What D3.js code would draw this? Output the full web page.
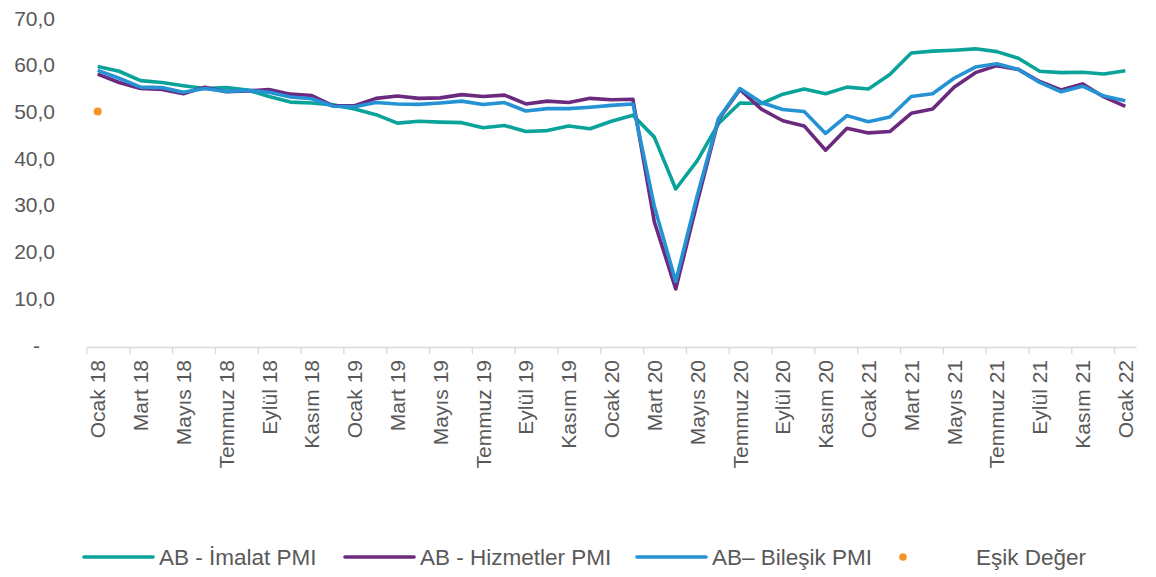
<!DOCTYPE html>
<html lang="tr">
<head>
<meta charset="utf-8">
<script src="https://cdn.jsdelivr.net/npm/d3@7/dist/d3.min.js"></script>
<style>
  html, body { margin: 0; padding: 0; background: #fff; }
  svg { display: block; font-family: "Liberation Sans", Arial, sans-serif; }
</style>
</head>
<body>
<svg id="chart" width="1156" height="577"></svg>
<script>
// Aylık kategoriler (Ocak 2018 – Ocak 2022)
const categories = [
  "Ocak 18","Şubat 18","Mart 18","Nisan 18","Mayıs 18","Haziran 18","Temmuz 18","Ağustos 18","Eylül 18","Ekim 18","Kasım 18","Aralık 18",
  "Ocak 19","Şubat 19","Mart 19","Nisan 19","Mayıs 19","Haziran 19","Temmuz 19","Ağustos 19","Eylül 19","Ekim 19","Kasım 19","Aralık 19",
  "Ocak 20","Şubat 20","Mart 20","Nisan 20","Mayıs 20","Haziran 20","Temmuz 20","Ağustos 20","Eylül 20","Ekim 20","Kasım 20","Aralık 20",
  "Ocak 21","Şubat 21","Mart 21","Nisan 21","Mayıs 21","Haziran 21","Temmuz 21","Ağustos 21","Eylül 21","Ekim 21","Kasım 21","Aralık 21",
  "Ocak 22"
];

// AB - İmalat PMI
const imalatPMI = [
  59.6, 58.6, 56.6, 56.2, 55.5, 54.9, 55.1, 54.6, 53.2, 52.0, 51.8, 51.4,
  50.5, 49.3, 47.5, 47.9, 47.7, 47.6, 46.5, 47.0, 45.7, 45.9, 46.9, 46.3,
  47.9, 49.2, 44.5, 33.4, 39.4, 47.4, 51.8, 51.7, 53.7, 54.8, 53.8, 55.2,
  54.8, 57.9, 62.5, 62.9, 63.1, 63.4, 62.8, 61.4, 58.6, 58.3, 58.4, 58.0,
  58.7
];

// AB - Hizmetler PMI
const hizmetlerPMI = [
  58.0, 56.2, 54.9, 54.7, 53.8, 55.2, 54.2, 54.4, 54.7, 53.7, 53.4, 51.2,
  51.2, 52.8, 53.3, 52.8, 52.9, 53.6, 53.2, 53.5, 51.6, 52.2, 51.9, 52.8,
  52.5, 52.6, 26.4, 12.0, 30.5, 48.3, 54.7, 50.5, 48.0, 46.9, 41.7, 46.4,
  45.4, 45.7, 49.6, 50.5, 55.2, 58.3, 59.8, 59.0, 56.4, 54.6, 55.9, 53.1,
  51.1
];

// AB– Bileşik PMI
const bilesikPMI = [
  58.8, 57.1, 55.2, 55.1, 54.1, 54.9, 54.3, 54.5, 54.1, 53.1, 52.7, 51.1,
  51.0, 51.9, 51.6, 51.5, 51.8, 52.2, 51.5, 51.9, 50.1, 50.6, 50.6, 50.9,
  51.3, 51.6, 29.7, 13.6, 31.9, 48.5, 54.9, 51.9, 50.4, 50.0, 45.3, 49.1,
  47.8, 48.8, 53.2, 53.8, 57.1, 59.5, 60.2, 59.0, 56.2, 54.2, 55.4, 53.3,
  52.3
];

// Eşik Değer (yalnızca ilk ayda tek nokta)
const esikDeger = [50];

const yTicks = [0, 10, 20, 30, 40, 50, 60, 70];
const xTickLabels = categories.filter((d, i) => i % 2 === 0);

const seriesNames = ["AB - İmalat PMI", "AB - Hizmetler PMI", "AB– Bileşik PMI"];
const seriesValues = [imalatPMI, hizmetlerPMI, bilesikPMI];
const seriesColors = ["#0aa39a", "#6b2a7e", "#2592d4"];
const esikName = "Eşik Değer";
const esikColor = "#f7922a";

const svg = d3.select("#chart");
const textColor = "#595959";

const x = d3.scaleBand().domain(categories).range([87, 1136]).paddingInner(0).paddingOuter(0);
const y = d3.scaleLinear().domain([0, 70]).range([345, 18]);
const cx = d => x(d) + x.bandwidth() / 2;

// Y ekseni etiketleri
const yFmt = v => v === 0 ? "-" : v.toFixed(1).replace(".", ",");
svg.append("g")
  .selectAll("text")
  .data(yTicks)
  .join("text")
  .attr("x", v => v === 0 ? 40 : 55)
  .attr("y", v => y(v))
  .attr("dy", "0.36em")
  .attr("text-anchor", "end")
  .attr("font-size", 21)
  .attr("fill", textColor)
  .text(yFmt);

// X ekseni: çizgi ve iki ayda bir etiket
const xAxis = d3.axisBottom(x)
  .tickValues(xTickLabels)
  .tickSize(0)
  .tickFormat(d => d);
const gx = svg.append("g").attr("transform", "translate(0,347)").call(xAxis);
gx.select(".domain").attr("stroke", "#d9d9d9").attr("stroke-width", 1.3);
gx.selectAll(".tick text")
  .attr("font-size", 21)
  .attr("font-family", "Liberation Sans, Arial, sans-serif")
  .attr("fill", textColor)
  .attr("text-anchor", "end")
  .attr("transform", "rotate(-90)")
  .attr("x", -13)
  .attr("y", 0)
  .attr("dy", "0.36em");

// Kategori sınırlarında işaretler (her iki ayda bir)
const boundaries = d3.range(0, categories.length + 1, 2)
  .map(i => i < categories.length ? x(categories[i]) : x.range()[1]);
svg.append("g")
  .selectAll("line")
  .data(boundaries)
  .join("line")
  .attr("x1", d => d).attr("x2", d => d)
  .attr("y1", 347).attr("y2", 354)
  .attr("stroke", "#d9d9d9")
  .attr("stroke-width", 1.3);

// Seriler
const line = d3.line()
  .x((v, i) => cx(categories[i]))
  .y(v => y(v));

seriesValues.forEach((vals, k) => {
  svg.append("path")
    .datum(vals)
    .attr("fill", "none")
    .attr("stroke", seriesColors[k])
    .attr("stroke-width", 3.6)
    .attr("stroke-linejoin", "round")
    .attr("d", line);
});

// Eşik değer noktası
svg.append("g")
  .selectAll("circle")
  .data(esikDeger)
  .join("circle")
  .attr("cx", (v, i) => cx(categories[i]))
  .attr("cy", v => y(v))
  .attr("r", 4)
  .attr("fill", esikColor);

// Lejant
const legendY = 557;
const legendItems = [
  { name: seriesNames[0], color: seriesColors[0], x0: 84 },
  { name: seriesNames[1], color: seriesColors[1], x0: 345 },
  { name: seriesNames[2], color: seriesColors[2], x0: 637 },
];
const lg = svg.append("g");
legendItems.forEach(it => {
  lg.append("line")
    .attr("x1", it.x0).attr("x2", it.x0 + 69)
    .attr("y1", legendY).attr("y2", legendY)
    .attr("stroke", it.color).attr("stroke-width", 3.6)
    .attr("stroke-linecap", "round");
  lg.append("text")
    .attr("x", it.x0 + 75).attr("y", legendY)
    .attr("dy", "0.36em")
    .attr("font-size", 22.5)
    .attr("fill", textColor)
    .text(it.name);
});
lg.append("circle")
  .attr("cx", 903).attr("cy", legendY)
  .attr("r", 3.8).attr("fill", esikColor);
lg.append("text")
  .attr("x", 976).attr("y", legendY)
  .attr("dy", "0.36em")
  .attr("font-size", 22.5)
  .attr("fill", textColor)
  .text(esikName);
</script>
</body>
</html>
